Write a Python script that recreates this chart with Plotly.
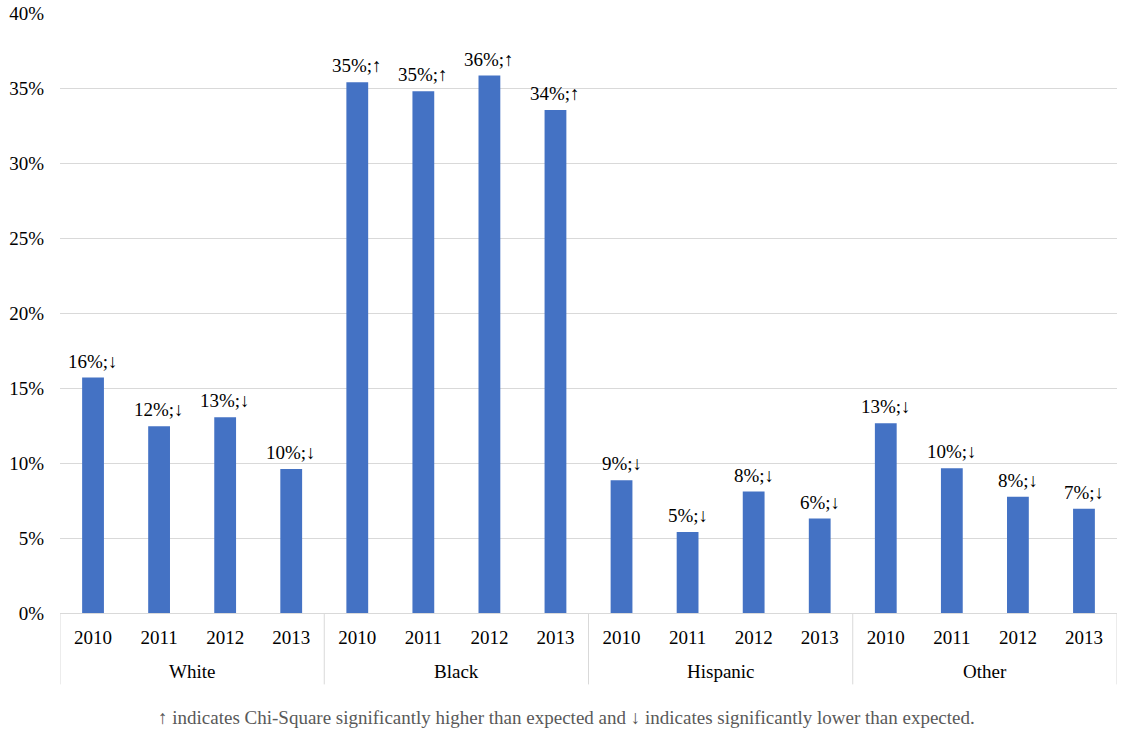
import plotly.graph_objects as go

# data
groups = ["White", "Black", "Hispanic", "Other"]
years = ["2010", "2011", "2012", "2013"]
white = [15.7, 12.45, 13.05, 9.6]
black = [35.4, 34.8, 35.85, 33.55]
hispanic = [8.85, 5.4, 8.1, 6.3]
other = [12.65, 9.65, 7.75, 6.95]
arrows = ["↓", "↑", "↓", "↓"]
y_ticks = [0, 5, 10, 15, 20, 25, 30, 35, 40]
note = ("↑ indicates Chi-Square significantly higher than expected and "
        "↓ indicates significantly lower than expected.")

series = [white, black, hispanic, other]
xs, x_yr, vals, labels = [], [], [], []
for gi, (vs, arr) in enumerate(zip(series, arrows)):
    for yi, (yr, v) in enumerate(zip(years, vs)):
        xs.append(gi * len(years) + yi)
        x_yr.append(yr)
        vals.append(v)
        labels.append(f"{round(v)}%;{arr}")

font = "Liberation Serif"
grid = "#d9d9d9"
n = len(years)

fig = go.Figure(go.Bar(
    x=xs, y=vals,
    marker=dict(color="#4472C4", line=dict(width=0)),
    width=0.33, hoverinfo="y",
))

fig.update_layout(
    width=1133, height=734,
    margin=dict(l=60, r=16, t=13, b=121),
    plot_bgcolor="white", paper_bgcolor="white",
    font=dict(family=font, size=19, color="black"),
    showlegend=False,
    xaxis=dict(
        range=[-0.5, len(xs) - 0.5], tickvals=xs, ticktext=x_yr,
        showline=True, linecolor=grid, linewidth=1,
        showgrid=False, zeroline=False, ticks="",
        ticklabelstandoff=7,
        tickfont=dict(family=font, size=19, color="black"),
        automargin=False,
    ),
    yaxis=dict(
        range=[0, 40.02], tickvals=y_ticks,
        ticktext=[f"{t}%" for t in y_ticks],
        showgrid=True, gridcolor=grid, gridwidth=1,
        zeroline=False, showline=False, ticks="",
        ticklabelstandoff=15, automargin=False,
        tickfont=dict(family=font, size=19, color="black"),
    ),
)

# value labels above bars
for x, v, t in zip(xs, vals, labels):
    fig.add_annotation(x=x, y=v, text=t, showarrow=False, yanchor="bottom",
                       yshift=4, font=dict(family=font, size=19, color="black"))

# group names and dividers under the axis
for gi, g in enumerate(groups):
    fig.add_annotation(x=gi * n + (n - 1) / 2, y=-0.098, yref="paper", text=g,
                       showarrow=False, yanchor="middle",
                       font=dict(family=font, size=19, color="black"))
for gi in range(len(groups) + 1):
    fig.add_shape(type="line", x0=gi * n - 0.5, x1=gi * n - 0.5,
                  y0=0, y1=-0.119, yref="paper",
                  line=dict(color=grid, width=1))

# footnote
fig.add_annotation(text=note, xref="paper", yref="paper", x=0.479, y=-0.174,
                   xanchor="center", yanchor="middle", showarrow=False,
                   font=dict(family=font, size=19, color="#595959"))

fig.write_html("out.html", config={"displayModeBar": False},
               post_script="document.body.style.margin='0';")
